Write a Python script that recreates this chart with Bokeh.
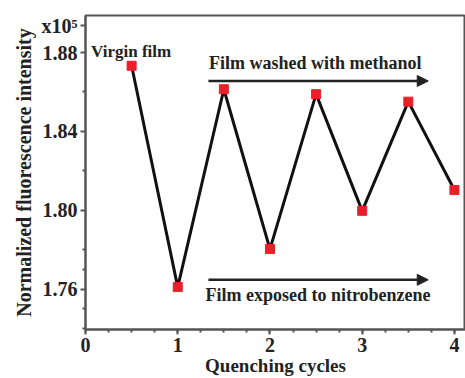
from bokeh.plotting import figure
from bokeh.models import Range1d, Label, Arrow, NormalHead, FixedTicker, NumeralTickFormatter
from bokeh.embed import file_html
from bokeh.resources import INLINE

cycles = [0.5, 1.0, 1.5, 2.0, 2.5, 3.0, 3.5, 4.0]
intensity = [1.8733, 1.7610, 1.8614, 1.7803, 1.8589, 1.7997, 1.8551, 1.8103]
x_ticks = [0, 1, 2, 3, 4]
y_ticks = [1.76, 1.80, 1.84, 1.88]
scale_tick = 1.8935
scale_label = "x10⁵"

FONT = "Liberation Serif"

p = figure(width=465, height=378, output_backend="svg", toolbar_location=None,
           x_range=Range1d(0, 4.12), y_range=Range1d(1.7395, 1.8988),
           min_border_left=85, min_border_top=15, min_border_right=0, min_border_bottom=47)
p.outline_line_color = "#555555"
p.outline_line_width = 2
p.xgrid.visible = False
p.ygrid.visible = False

p.line(cycles, intensity, line_color="#111111", line_width=3)
p.scatter(cycles, intensity, marker="square", size=9, fill_color="#e8202a", line_color="#e8202a")

for ax in (p.xaxis[0], p.yaxis[0]):
    ax.axis_line_color = "#555555"
    ax.axis_line_width = 2
    ax.major_tick_line_color = "#555555"
    ax.minor_tick_line_color = "#555555"
    ax.major_tick_line_width = 2
    ax.minor_tick_line_width = 2
    ax.major_tick_out = 5
    ax.major_tick_in = 0
    ax.minor_tick_out = 3
    ax.minor_tick_in = 0
    ax.major_label_text_font = FONT
    ax.major_label_text_font_style = "bold"
    ax.major_label_text_font_size = "20px"
    ax.major_label_text_color = "#222222"
    ax.axis_label_text_font = FONT
    ax.axis_label_text_font_style = "bold"
    ax.axis_label_text_color = "#222222"

p.xaxis.ticker = FixedTicker(ticks=x_ticks, minor_ticks=[i * 0.25 for i in range(17)])
p.yaxis.ticker = FixedTicker(ticks=y_ticks + [scale_tick],
                             minor_ticks=[1.74, 1.75, 1.77, 1.78, 1.82, 1.86])
p.yaxis.formatter = NumeralTickFormatter(format="0.00")
p.yaxis.major_label_overrides = {scale_tick: scale_label}
p.xaxis.axis_label = "Quenching cycles"
p.xaxis.axis_label_text_font_size = "19px"
p.xaxis.axis_label_standoff = 0
p.xaxis.major_label_standoff = 3
p.yaxis.axis_label = "Normalized fluorescence intensity"
p.yaxis.axis_label_text_font_size = "20px"
p.yaxis.axis_label_standoff = 4
p.yaxis.major_label_standoff = 3

p.add_layout(Label(x=0.06, y=1.8805, text="Virgin film", text_font=FONT,
                   text_font_style="bold", text_font_size="17px", text_color="#222222",
                   text_baseline="middle"))
p.add_layout(Label(x=1.34, y=1.8745, text="Film washed with methanol", text_font=FONT,
                   text_font_style="bold", text_font_size="18px", text_color="#222222",
                   text_baseline="middle"))
p.add_layout(Label(x=1.30, y=1.757, text="Film exposed to nitrobenzene", text_font=FONT,
                   text_font_style="bold", text_font_size="18px", text_color="#222222",
                   text_baseline="middle"))

for yv in (1.8656, 1.7647):
    p.add_layout(Arrow(x_start=1.333, y_start=yv, x_end=3.716, y_end=yv,
                       line_color="#222222", line_width=2.5,
                       end=NormalHead(size=11, fill_color="#222222", line_color="#222222")))

open("out.html", "w").write(file_html(p, INLINE))
